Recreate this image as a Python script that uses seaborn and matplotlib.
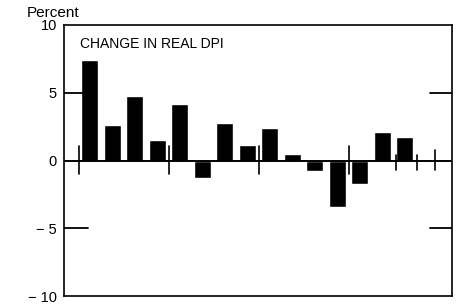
import matplotlib
matplotlib.use("Agg")
import matplotlib.pyplot as plt
import seaborn as sns
import numpy as np
import pandas as pd

# bar values (percent change in real DPI)
bar_pos = np.arange(15)
dpi_change = [7.4, 2.6, 4.75, 1.5, 4.2, -1.3, 2.8, 1.15, 2.4, 0.45, -0.8, -3.4, -1.7, 2.1, 1.75]

# period markers along the zero line
long_ticks = [-0.5, 3.5, 7.5, 11.5]
short_ticks = [13.6, 14.55, 15.35]

y_ticks = [-10, -5, 0, 5, 10]
y_labels = ["\u2212 10", "\u2212 5", "0", "5", "10"]

sns.set_style("white", {"text.color": "black", "ytick.color": "black"})
plt.rcParams["font.family"] = ["Liberation Sans", "DejaVu Sans"]

df = pd.DataFrame({"pos": bar_pos, "value": dpi_change})

fig = plt.figure(figsize=(4.64, 3.04), dpi=100)
ax = fig.add_axes([64 / 464, 1 - 296 / 304, (452 - 64) / 464, (296 - 25) / 304])

sns.barplot(data=df, x="pos", y="value", native_scale=True, color="black",
            width=0.75, saturation=1, ax=ax)

ax.set_xlim(-1.15, 16.1)
ax.set_ylim(-10, 10)
ax.axhline(0, color="black", lw=1.4)

for p in long_ticks:
    ax.plot([p, p], [-1.0, 1.1], color="black", lw=1.2)
for p, top in zip(short_ticks, [0.4, 0.4, 0.8]):
    ax.plot([p, p], [-0.7, top], color="black", lw=1.2)

for y in [5, -5]:
    ax.plot([-1.15, -0.1], [y, y], color="black", lw=1.3)
    ax.plot([15.1, 16.1], [y, y], color="black", lw=1.3)

ax.set_yticks(y_ticks)
ax.set_yticklabels(y_labels, fontsize=10.5, color="black")
ax.tick_params(axis="y", length=0, pad=5)
ax.set_xticks([])
ax.set_xlabel("")
ax.set_ylabel("")
for s in ax.spines.values():
    s.set_color("black")
    s.set_linewidth(1.2)

ax.text(0.04, 0.955, "CHANGE IN REAL DPI", transform=ax.transAxes,
        fontsize=10, va="top", ha="left", color="black", fontstretch="condensed",
        family=["Liberation Sans Narrow", "Liberation Sans", "DejaVu Sans"])
fig.text(27 / 464, 1 - 13 / 304, "Percent", fontsize=11, va="center", ha="left",
         color="black")

plt.savefig("out.png", dpi=100)
plt.close()
